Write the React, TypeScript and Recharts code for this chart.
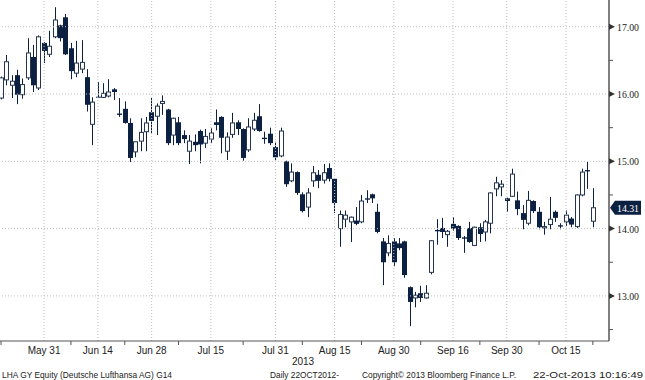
import { ComposedChart, Bar, XAxis, YAxis, ReferenceLine, ReferenceDot } from 'recharts';

// trading days shown (May 21 - Oct 22, 2013)
const dates = [
  'May 21', 'May 22', 'May 23', 'May 24', 'May 27', 'May 28', 'May 29', 'May 30', 'May 31',
  'Jun 3', 'Jun 4', 'Jun 5', 'Jun 6', 'Jun 7', 'Jun 10', 'Jun 11', 'Jun 12', 'Jun 13', 'Jun 14',
  'Jun 17', 'Jun 18', 'Jun 19', 'Jun 20', 'Jun 21', 'Jun 24', 'Jun 25', 'Jun 26', 'Jun 27', 'Jun 28',
  'Jul 1', 'Jul 2', 'Jul 3', 'Jul 4', 'Jul 5', 'Jul 8', 'Jul 9', 'Jul 10', 'Jul 11', 'Jul 12',
  'Jul 15', 'Jul 16', 'Jul 17', 'Jul 18', 'Jul 19', 'Jul 22', 'Jul 23', 'Jul 24', 'Jul 25', 'Jul 26',
  'Jul 29', 'Jul 30', 'Jul 31', 'Aug 1', 'Aug 2', 'Aug 5', 'Aug 6', 'Aug 7', 'Aug 8', 'Aug 9',
  'Aug 12', 'Aug 13', 'Aug 14', 'Aug 15', 'Aug 16', 'Aug 19', 'Aug 20', 'Aug 21', 'Aug 22', 'Aug 23',
  'Aug 26', 'Aug 27', 'Aug 28', 'Aug 29', 'Aug 30', 'Sep 2', 'Sep 3', 'Sep 4', 'Sep 5', 'Sep 6',
  'Sep 9', 'Sep 10', 'Sep 11', 'Sep 12', 'Sep 13', 'Sep 16', 'Sep 17', 'Sep 18', 'Sep 19', 'Sep 20',
  'Sep 23', 'Sep 24', 'Sep 25', 'Sep 26', 'Sep 27', 'Sep 30', 'Oct 1', 'Oct 2', 'Oct 3', 'Oct 4',
  'Oct 7', 'Oct 8', 'Oct 9', 'Oct 10', 'Oct 11', 'Oct 14', 'Oct 15', 'Oct 16', 'Oct 17', 'Oct 18',
  'Oct 21', 'Oct 22',
];

const opens = [
  15.94, 16.21, 16.13, 16.28, 15.99, 16.24, 16.55, 16.09, 16.76, 16.59,
  16.85, 17.02, 17.14, 16.68, 16.31, 16.37, 16.25, 15.55, 15.96, 15.95,
  15.97, 16.07, 15.71, 15.78, 15.57, 15.14, 15.30, 15.44, 15.73, 15.67,
  15.86, 15.77, 15.39, 15.58, 15.39, 15.15, 15.29, 15.45, 15.27, 15.33,
  15.58, 15.66, 15.15, 15.40, 15.58, 15.48, 15.17, 15.48, 15.67, 15.35,
  15.41, 15.21, 15.08, 15.00, 14.71, 14.84, 14.51, 14.32, 14.71, 14.80,
  14.72, 14.90, 14.74, 14.00, 14.14, 14.10, 14.12, 14.10, 14.45, 14.51,
  14.25, 13.81, 13.64, 13.81, 13.78, 13.81, 13.13, 12.97, 13.04, 12.97,
  13.35, 13.98, 14.01, 13.91, 14.07, 14.04, 13.87, 14.01, 13.75, 14.02,
  13.95, 14.08, 14.59, 14.62, 14.45, 14.48, 14.42, 14.23, 14.08, 14.41,
  14.25, 14.01, 14.06, 14.25, 14.05, 14.10, 14.15, 14.03, 14.50, 14.87,
  14.11,
];
const highs = [
  16.26, 16.58, 16.28, 16.36, 16.23, 16.83, 16.73, 16.87, 16.77, 16.94,
  17.29, 17.03, 17.19, 16.76, 16.79, 16.80, 16.37, 15.95, 16.18, 16.16,
  16.22, 16.09, 15.94, 15.89, 15.64, 15.29, 15.64, 15.66, 15.94, 15.86,
  15.98, 15.78, 15.65, 15.66, 15.46, 15.39, 15.40, 15.47, 15.48, 15.49,
  15.77, 15.67, 15.43, 15.72, 15.61, 15.49, 15.64, 15.72, 15.85, 15.44,
  15.50, 15.29, 15.50, 15.01, 14.97, 14.85, 14.54, 14.60, 14.93, 14.87,
  14.96, 14.97, 14.75, 14.27, 14.27, 14.18, 14.32, 14.50, 14.57, 14.52,
  14.37, 13.86, 13.90, 13.86, 13.86, 13.82, 13.14, 13.06, 13.15, 13.16,
  13.83, 14.14, 14.16, 13.98, 14.17, 14.05, 13.89, 14.10, 14.03, 14.08,
  14.13, 14.54, 14.77, 14.72, 14.46, 14.89, 14.55, 14.35, 14.56, 14.42,
  14.32, 14.10, 14.47, 14.27, 14.08, 14.27, 14.17, 14.51, 14.89, 14.99,
  14.60,
];
const lows = [
  15.92, 16.13, 15.94, 15.85, 15.93, 16.21, 16.03, 16.06, 16.46, 16.55,
  16.83, 16.78, 16.58, 16.22, 16.25, 16.31, 15.74, 15.24, 15.94, 15.94,
  15.95, 15.91, 15.66, 15.56, 14.99, 15.06, 15.15, 15.15, 15.42, 15.39,
  15.69, 15.24, 15.24, 15.24, 15.27, 14.96, 15.15, 14.97, 15.20, 15.27,
  15.46, 15.12, 15.02, 15.35, 15.39, 15.01, 15.14, 15.45, 15.44, 15.26,
  15.24, 15.02, 15.06, 14.62, 14.69, 14.50, 14.24, 14.17, 14.62, 14.60,
  14.67, 14.70, 14.23, 13.73, 14.02, 13.80, 14.05, 14.08, 14.38, 14.38,
  13.93, 13.16, 13.59, 13.44, 13.68, 13.27, 12.55, 12.83, 12.91, 12.96,
  13.32, 13.76, 13.86, 13.73, 13.97, 13.83, 13.64, 13.79, 13.74, 13.80,
  13.81, 13.93, 14.48, 14.48, 14.25, 14.47, 14.20, 13.99, 14.05, 14.23,
  13.99, 13.91, 13.99, 14.10, 13.99, 14.04, 14.02, 14.01, 14.48, 14.59,
  14.02,
];
const closes = [
  16.24, 16.48, 16.19, 15.99, 16.14, 16.61, 16.13, 16.85, 16.64, 16.71,
  17.10, 16.83, 16.59, 16.34, 16.46, 16.47, 15.84, 15.88, 15.95, 16.01,
  16.03, 16.03, 15.69, 15.57, 15.05, 15.29, 15.43, 15.57, 15.60, 15.82,
  15.89, 15.27, 15.64, 15.27, 15.33, 15.30, 15.24, 15.25, 15.37, 15.42,
  15.54, 15.35, 15.36, 15.57, 15.48, 15.05, 15.51, 15.61, 15.45, 15.33,
  15.27, 15.06, 15.45, 14.66, 14.84, 14.53, 14.26, 14.53, 14.83, 14.71,
  14.83, 14.74, 14.38, 14.21, 14.20, 14.17, 14.07, 14.41, 14.43, 14.45,
  13.95, 13.50, 13.78, 13.50, 13.71, 13.31, 12.91, 13.01, 12.97, 13.04,
  13.82, 13.96, 13.95, 13.96, 14.00, 13.86, 13.85, 13.80, 14.02, 13.92,
  14.10, 14.53, 14.68, 14.66, 14.41, 14.81, 14.29, 14.13, 14.42, 14.26,
  14.02, 14.03, 14.14, 14.16, 14.03, 14.20, 14.06, 14.50, 14.84, 14.85,
  14.31,
];

const tickDates = ['May 31', 'Jun 14', 'Jun 28', 'Jul 15', 'Jul 31', 'Aug 15', 'Aug 30', 'Sep 16', 'Sep 30', 'Oct 15'];
const minorTickDates = ['May 21', 'Jun 7', 'Jun 21', 'Jul 5', 'Jul 23', 'Aug 7', 'Aug 22', 'Sep 6', 'Sep 23', 'Oct 8', 'Oct 22'];
const priceTicks = [12.5, 13, 13.5, 14, 14.5, 15, 15.5, 16, 16.5, 17];
const gridPrices = [13, 14, 15, 16, 17];

const footerTexts = [
  { text: 'LHA GY Equity (Deutsche Lufthansa AG) G14', x: 2, w: 170 },
  { text: 'Daily 22OCT2012-', x: 270, w: 69 },
  { text: 'Copyright© 2013 Bloomberg Finance L.P.', x: 362, w: 154 },
  { text: '22-Oct-2013 10:16:49', x: 533, w: 110 },
];

const data = dates.map((d, i) => ({
  i,
  date: d,
  open: opens[i],
  high: highs[i],
  low: lows[i],
  close: closes[i],
  range: [lows[i], highs[i]],
}));
const tickIdx = tickDates.map((d) => dates.indexOf(d));
const minorIdx = minorTickDates.map((d) => dates.indexOf(d));
const allTicks = [...tickIdx, ...minorIdx].sort((a, b) => a - b);
const lastClose = closes[closes.length - 1];

const W = 645;
const H = 380;
const NAVY = '#0c2142';
const X_DOMAIN: [number, number] = [-0.19, 113.0];
const SANS = "'Liberation Sans', Arial, sans-serif";
const SERIF = "'Liberation Serif', 'Times New Roman', serif";

function Candle(props: any) {
  const { x, y, width, height, payload } = props;
  const { open, close, high, low } = payload;
  const top = Math.min(y, y + height);
  const h = Math.abs(height);
  const py = (v: number) => top + ((high - v) / (high - low)) * h;
  const c = Math.round(x + width / 2);
  const yo = py(open);
  const yc = py(close);
  const bTop = Math.min(yo, yc);
  const bH = Math.max(Math.abs(yo - yc), 1);
  const up = close > open;
  return (
    <g>
      <line x1={c + 0.5} x2={c + 0.5} y1={top} y2={top + h} stroke={NAVY} strokeWidth={1} />
      {up ? (
        <rect x={c - 1.5} y={bTop} width={4} height={bH} fill="#fff" stroke="#25344f" strokeWidth={1} />
      ) : (
        <rect x={c - 2} y={bTop} width={5} height={bH} fill={NAVY} />
      )}
    </g>
  );
}

function PriceTick(props: any) {
  const { x, y, payload } = props;
  const v = payload.value as number;
  if (v % 1 !== 0) {
    return <line x1={x} x2={x + 4} y1={y} y2={y} stroke="#555" />;
  }
  return (
    <g>
      <polygon points={`${x},${y - 3} ${x + 6},${y} ${x},${y + 3}`} fill="#333" />
      <text x={x + 8} y={y + 4} fontSize={10.5} fontFamily={SERIF} fill="#222" textLength={22} lengthAdjust="spacingAndGlyphs">
        {v.toFixed(2)}
      </text>
    </g>
  );
}

function DateTick(props: any) {
  const { x, y, payload } = props;
  const i = payload.value as number;
  if (!tickIdx.includes(i)) {
    return <line x1={x} x2={x} y1={y} y2={y + 4} stroke="#555" />;
  }
  return (
    <text x={x} y={y + 13} textAnchor="middle" fontSize={10} fontFamily={SANS} fill="#222">
      {dates[i]}
    </text>
  );
}

function PriceTag(props: any) {
  const { cx, cy } = props;
  return (
    <g>
      <polygon
        points={`${cx + 1},${cy} ${cx + 6},${cy - 7} ${cx + 32},${cy - 7} ${cx + 32},${cy + 7} ${cx + 6},${cy + 7}`}
        fill={NAVY}
      />
      <text x={cx + 8} y={cy + 4} fontSize={10.5} fontFamily={SERIF} fill="#fff" textLength={22} lengthAdjust="spacingAndGlyphs">
        {lastClose.toFixed(2)}
      </text>
    </g>
  );
}

export default function App() {
  return (
    <div style={{ position: 'fixed', left: 0, top: 0, width: W, height: H, background: '#fff' }}>
      <ComposedChart width={W} height={H} data={data} margin={{ top: 0, right: 0, bottom: 0, left: 0 }}>
        <XAxis
          dataKey="i"
          type="number"
          domain={X_DOMAIN}
          allowDataOverflow
          ticks={allTicks}
          interval={0}
          tick={<DateTick />}
          tickLine={false}
          tickSize={0}
          tickMargin={0}
          axisLine={{ stroke: '#555' }}
          height={39}
        />
        <YAxis
          orientation="right"
          type="number"
          domain={[12.33, 17.397]}
          allowDataOverflow
          ticks={priceTicks}
          tick={<PriceTick />}
          tickLine={false}
          tickSize={0}
          tickMargin={0}
          axisLine={{ stroke: '#555', strokeWidth: 1.5 }}
          width={36}
          interval={0}
        />
        {gridPrices.map((p) => (
          <ReferenceLine key={`h${p}`} y={p} stroke="#bdbdbd" strokeDasharray="1 2" />
        ))}
        {tickIdx.map((t) => (
          <ReferenceLine key={`v${t}`} x={t} stroke="#bdbdbd" strokeDasharray="1 2" />
        ))}
        <Bar dataKey="range" barSize={5} shape={<Candle />} isAnimationActive={false} />
        <ReferenceDot x={X_DOMAIN[1]} y={lastClose} ifOverflow="visible" shape={<PriceTag />} />
      </ComposedChart>
      <svg width={W} height={H} style={{ position: 'absolute', left: 0, top: 0, pointerEvents: 'none' }}>
        <text x={303} y={365} textAnchor="middle" fontSize={10} fontFamily={SANS} fill="#222">2013</text>
        {footerTexts.map((f) => (
          <text key={f.text} x={f.x} y={378} fontSize={9} fontFamily={SANS} fill="#222" textLength={f.w} lengthAdjust="spacingAndGlyphs">
            {f.text}
          </text>
        ))}
      </svg>
    </div>
  );
}
